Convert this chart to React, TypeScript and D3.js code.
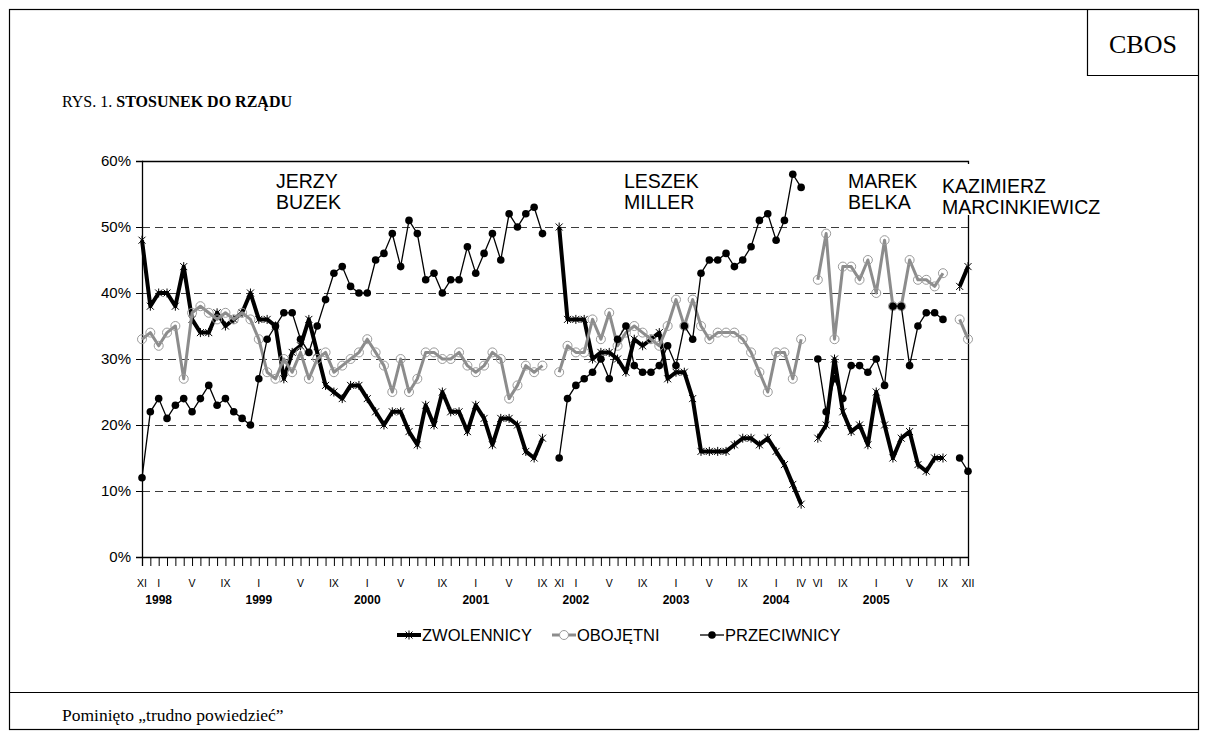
import { useEffect, useRef } from "react";
import * as d3 from "d3";

// one category per CBOS survey (1999 and 2000 had one extra survey each)
const categories = [
  "1997-11", "1997-12",
  "1998-01", "1998-02", "1998-03", "1998-04", "1998-05", "1998-06", "1998-07", "1998-08", "1998-09", "1998-10", "1998-11", "1998-12",
  "1999-01", "1999-02", "1999-03", "1999-03b", "1999-04", "1999-05", "1999-06", "1999-07", "1999-08", "1999-09", "1999-10", "1999-11", "1999-12",
  "2000-01", "2000-02", "2000-03", "2000-04", "2000-05", "2000-06", "2000-06b", "2000-07", "2000-08", "2000-09", "2000-10", "2000-11", "2000-12",
  "2001-01", "2001-02", "2001-03", "2001-04", "2001-05", "2001-06", "2001-07", "2001-08", "2001-09", "2001-10", "2001-11", "2001-12",
  "2002-01", "2002-02", "2002-03", "2002-04", "2002-05", "2002-06", "2002-07", "2002-08", "2002-09", "2002-10", "2002-11", "2002-12",
  "2003-01", "2003-02", "2003-03", "2003-04", "2003-05", "2003-06", "2003-07", "2003-08", "2003-09", "2003-10", "2003-11", "2003-12",
  "2004-01", "2004-02", "2004-03", "2004-04", "2004-05", "2004-06", "2004-07", "2004-08", "2004-09", "2004-10", "2004-11", "2004-12",
  "2005-01", "2005-02", "2005-03", "2005-04", "2005-05", "2005-06", "2005-07", "2005-08", "2005-09", "2005-10", "2005-11", "2005-12",
];

const zwolennicy = [
  48, 38,
  40, 40, 38, 44, 36, 34, 34, 37, 35, 36, 37, 40,
  36, 36, 35, 27, 31, 32, 36, 31, 26, 25, 24, 26, 26,
  24, 22, 20, 22, 22, 19, 17, 23, 20, 25, 22, 22, 19,
  23, 21, 17, 21, 21, 20, 16, 15, 18, null, 50, 36,
  36, 36, 30, 31, 31, 30, 28, 33, 32, 33, 34, 27,
  28, 28, 24, 16, 16, 16, 16, 17, 18, 18, 17, 18,
  16, 14, 11, 8, null, 18, 20, 30, 22, 19, 20, 17,
  25, 20, 15, 18, 19, 14, 13, 15, 15, null, 41, 44,
];

const obojetni = [
  33, 34,
  32, 34, 35, 27, 37, 38, 37, 36, 37, 36, 37, 36,
  33, 28, 27, 30, 28, 31, 27, 30, 31, 28, 29, 30, 31,
  33, 31, 29, 25, 30, 25, 27, 31, 31, 30, 30, 31, 29,
  28, 29, 31, 30, 24, 26, 29, 28, 29, null, 28, 32,
  31, 31, 36, 33, 37, 32, 34, 35, 34, 33, 32, 35,
  39, 35, 39, 35, 33, 34, 34, 34, 33, 31, 28, 25,
  31, 31, 27, 33, null, 42, 49, 33, 44, 44, 42, 45,
  40, 48, 38, 38, 45, 42, 42, 41, 43, null, 36, 33,
];

const przeciwnicy = [
  12, 22,
  24, 21, 23, 24, 22, 24, 26, 23, 24, 22, 21, 20,
  27, 33, 35, 37, 37, 33, 31, 35, 39, 43, 44, 41, 40,
  40, 45, 46, 49, 44, 51, 49, 42, 43, 40, 42, 42, 47,
  43, 46, 49, 45, 52, 50, 52, 53, 49, null, 15, 24,
  26, 27, 28, 30, 27, 33, 35, 29, 28, 28, 29, 32,
  29, 35, 33, 43, 45, 45, 46, 44, 45, 47, 51, 52,
  48, 51, 58, 56, null, 30, 22, 27, 24, 29, 29, 28,
  30, 26, 38, 38, 29, 35, 37, 37, 36, null, 15, 13,
];

const yTicks = [0, 10, 20, 30, 40, 50, 60];

const monthTicks = [
  ["1997-11", "XI"], ["1998-01", "I"], ["1998-05", "V"], ["1998-09", "IX"],
  ["1999-01", "I"], ["1999-05", "V"], ["1999-09", "IX"],
  ["2000-01", "I"], ["2000-05", "V"], ["2000-09", "IX"],
  ["2001-01", "I"], ["2001-05", "V"], ["2001-09", "IX"], ["2001-11", "XI"],
  ["2002-01", "I"], ["2002-05", "V"], ["2002-09", "IX"],
  ["2003-01", "I"], ["2003-05", "V"], ["2003-09", "IX"],
  ["2004-01", "I"], ["2004-04", "IV"], ["2004-06", "VI"], ["2004-09", "IX"],
  ["2005-01", "I"], ["2005-05", "V"], ["2005-09", "IX"], ["2005-12", "XII"],
];

const yearTicks = [
  ["1998-01", "1998"], ["1999-01", "1999"], ["2000-01", "2000"], ["2001-01", "2001"],
  ["2002-01", "2002"], ["2003-01", "2003"], ["2004-01", "2004"], ["2005-01", "2005"],
];

const premiers = [
  ["JERZY", "BUZEK"],
  ["LESZEK", "MILLER"],
  ["MAREK", "BELKA"],
  ["KAZIMIERZ", "MARCINKIEWICZ"],
];

const seriesNames = ["ZWOLENNICY", "OBOJĘTNI", "PRZECIWNICY"];

const SANS = "Arial, 'Liberation Sans', sans-serif";
const SERIF = "'Times New Roman', 'Liberation Serif', serif";

const starPath = (cx: number, cy: number, s: number) =>
  `M${cx - s},${cy - s}L${cx + s},${cy + s}M${cx - s},${cy + s}L${cx + s},${cy - s}M${cx},${cy - s - 1}L${cx},${cy + s + 1}`;

const App = () => {
  const svgRef = useRef<SVGSVGElement | null>(null);

  useEffect(() => {
    const width = 1208;
    const height = 738;
    const svg = d3.select(svgRef.current);
    svg.selectAll("*").remove();
    svg.attr("width", width).attr("height", height).attr("viewBox", `0 0 ${width} ${height}`);

    svg.append("rect").attr("width", width).attr("height", height).attr("fill", "#fff");

    // page frame
    const frame = svg.append("g").attr("stroke", "#000").attr("fill", "none").attr("stroke-width", 1.2);
    frame.append("rect").attr("x", 9.5).attr("y", 9.5).attr("width", 1189).attr("height", 720);
    frame.append("path").attr("d", "M1087.5,9.5V75.5H1198.5");
    frame.append("path").attr("d", "M9.5,692.5H1198.5");

    svg.append("text")
      .attr("x", 1143).attr("y", 53).attr("text-anchor", "middle")
      .style("font-family", SERIF).style("font-size", "26px")
      .text("CBOS");

    const title = svg.append("text")
      .attr("x", 62).attr("y", 107)
      .style("font-family", SERIF).style("font-size", "16px");
    title.append("tspan").text("RYS. 1.  ");
    title.append("tspan").attr("font-weight", "bold").text("STOSUNEK DO RZĄDU");

    svg.append("text")
      .attr("x", 62).attr("y", 721)
      .style("font-family", SERIF).style("font-size", "17.5px")
      .text("Pominięto „trudno powiedzieć”");

    const left = 142, right = 968, top = 161, bottom = 557;

    const x = d3.scalePoint<string>().domain(categories).range([left, right]);
    const y = d3.scaleLinear().domain([0, 60]).range([bottom, top]);

    // gridlines
    svg.append("g")
      .selectAll("line")
      .data(yTicks.filter(t => t > 0 && t < 60))
      .join("line")
      .attr("x1", left).attr("x2", right)
      .attr("y1", d => Math.round(y(d)) + 0.5).attr("y2", d => Math.round(y(d)) + 0.5)
      .attr("stroke", "#3c3c3c")
      .attr("stroke-dasharray", "8,5");

    // plot border (top, right)
    svg.append("path")
      .attr("d", `M${left},${top + 0.5}H${right + 0.5}V${bottom}`)
      .attr("stroke", "#000").attr("fill", "none").attr("stroke-width", 1.3);

    // y axis
    const yAxis = svg.append("g").attr("transform", `translate(${left},0)`)
      .call(d3.axisLeft(y).tickValues(yTicks).tickSize(6).tickFormat(d => `${d}%`));
    yAxis.select(".domain").attr("stroke", "#000").attr("stroke-width", 1.3);
    yAxis.selectAll("text").style("font-family", SANS).style("font-size", "15px").attr("fill", "#000").attr("x", -11);

    // x axis with a tick at every survey
    const xAxis = svg.append("g").attr("transform", `translate(0,${bottom})`)
      .call(d3.axisBottom(x).tickSize(9).tickFormat(() => ""));
    xAxis.select(".domain").attr("stroke", "#000").attr("stroke-width", 1.3);
    xAxis.selectAll(".tick line").attr("stroke", "#000");

    svg.append("g")
      .selectAll("text")
      .data(monthTicks)
      .join("text")
      .attr("x", d => x(d[0]) as number)
      .attr("y", 587)
      .attr("text-anchor", "middle")
      .style("font-family", SANS).style("font-size", "10.5px")
      .text(d => d[1]);

    svg.append("g")
      .selectAll("text")
      .data(yearTicks)
      .join("text")
      .attr("x", d => x(d[0]) as number)
      .attr("y", 604)
      .attr("text-anchor", "middle")
      .attr("font-weight", "bold")
      .style("font-family", SANS).style("font-size", "12px")
      .text(d => d[1]);

    const line = d3.line<number | null>()
      .defined(d => d != null)
      .x((_, i) => x(categories[i]) as number)
      .y(d => y(d as number));

    const points = (vals: (number | null)[]) =>
      vals.map((v, i) => ({ v, c: categories[i] })).filter(d => d.v != null) as { v: number; c: string }[];

    // ZWOLENNICY
    svg.append("path")
      .attr("d", line(zwolennicy))
      .attr("fill", "none").attr("stroke", "#000").attr("stroke-width", 4)
      .attr("stroke-linejoin", "round");
    svg.append("g")
      .selectAll("path")
      .data(points(zwolennicy))
      .join("path")
      .attr("d", d => starPath(x(d.c) as number, y(d.v), 3.5))
      .attr("stroke", "#000").attr("stroke-width", 1).attr("fill", "none");

    // OBOJĘTNI
    svg.append("path")
      .attr("d", line(obojetni))
      .attr("fill", "none").attr("stroke", "#8c8c8c").attr("stroke-width", 3)
      .attr("stroke-linejoin", "round");
    svg.append("g")
      .selectAll("circle")
      .data(points(obojetni))
      .join("circle")
      .attr("cx", d => x(d.c) as number).attr("cy", d => y(d.v))
      .attr("r", 4.5)
      .attr("fill", "none").attr("stroke", "#9a9a9a").attr("stroke-width", 1);

    // PRZECIWNICY
    svg.append("path")
      .attr("d", line(przeciwnicy))
      .attr("fill", "none").attr("stroke", "#000").attr("stroke-width", 1.3);
    svg.append("g")
      .selectAll("circle")
      .data(points(przeciwnicy))
      .join("circle")
      .attr("cx", d => x(d.c) as number).attr("cy", d => y(d.v))
      .attr("r", 3.8)
      .attr("fill", "#000");

    // premiers' names
    const namePos = [[276, 188], [624, 188], [848, 188], [942, 193]];
    const names = svg.append("g").style("font-family", SANS).style("font-size", "19.5px");
    names.append("rect").attr("x", 938).attr("y", 164).attr("width", 172).attr("height", 51).attr("fill", "#fff");
    premiers.forEach((p, k) => {
      const t = names.append("text").attr("x", namePos[k][0]).attr("y", namePos[k][1]);
      t.append("tspan").attr("x", namePos[k][0]).text(p[0]);
      t.append("tspan").attr("x", namePos[k][0]).attr("dy", 21).text(p[1]);
    });

    // legend
    const legendY = 635;
    const legend = svg.append("g").style("font-family", SANS).style("font-size", "16.5px");
    const lx = [397, 552, 700];
    legend.append("line").attr("x1", lx[0]).attr("x2", lx[0] + 24).attr("y1", legendY).attr("y2", legendY)
      .attr("stroke", "#000").attr("stroke-width", 4);
    legend.append("path").attr("d", starPath(lx[0] + 12, legendY, 3.5)).attr("stroke", "#000").attr("fill", "none");
    legend.append("line").attr("x1", lx[1]).attr("x2", lx[1] + 24).attr("y1", legendY).attr("y2", legendY)
      .attr("stroke", "#8c8c8c").attr("stroke-width", 3);
    legend.append("circle").attr("cx", lx[1] + 12).attr("cy", legendY).attr("r", 4.5)
      .attr("fill", "#fff").attr("stroke", "#9a9a9a");
    legend.append("line").attr("x1", lx[2]).attr("x2", lx[2] + 24).attr("y1", legendY).attr("y2", legendY)
      .attr("stroke", "#000").attr("stroke-width", 1.3);
    legend.append("circle").attr("cx", lx[2] + 12).attr("cy", legendY).attr("r", 3.8).attr("fill", "#000");
    seriesNames.forEach((n, k) => {
      legend.append("text").attr("x", lx[k] + 25).attr("y", legendY + 6).text(n);
    });

    return () => {
      svg.selectAll("*").remove();
    };
  }, []);

  return (
    <div style={{ position: "absolute", left: 0, top: 0 }}>
      <svg ref={svgRef} style={{ display: "block" }}></svg>
    </div>
  );
};

export default App;
